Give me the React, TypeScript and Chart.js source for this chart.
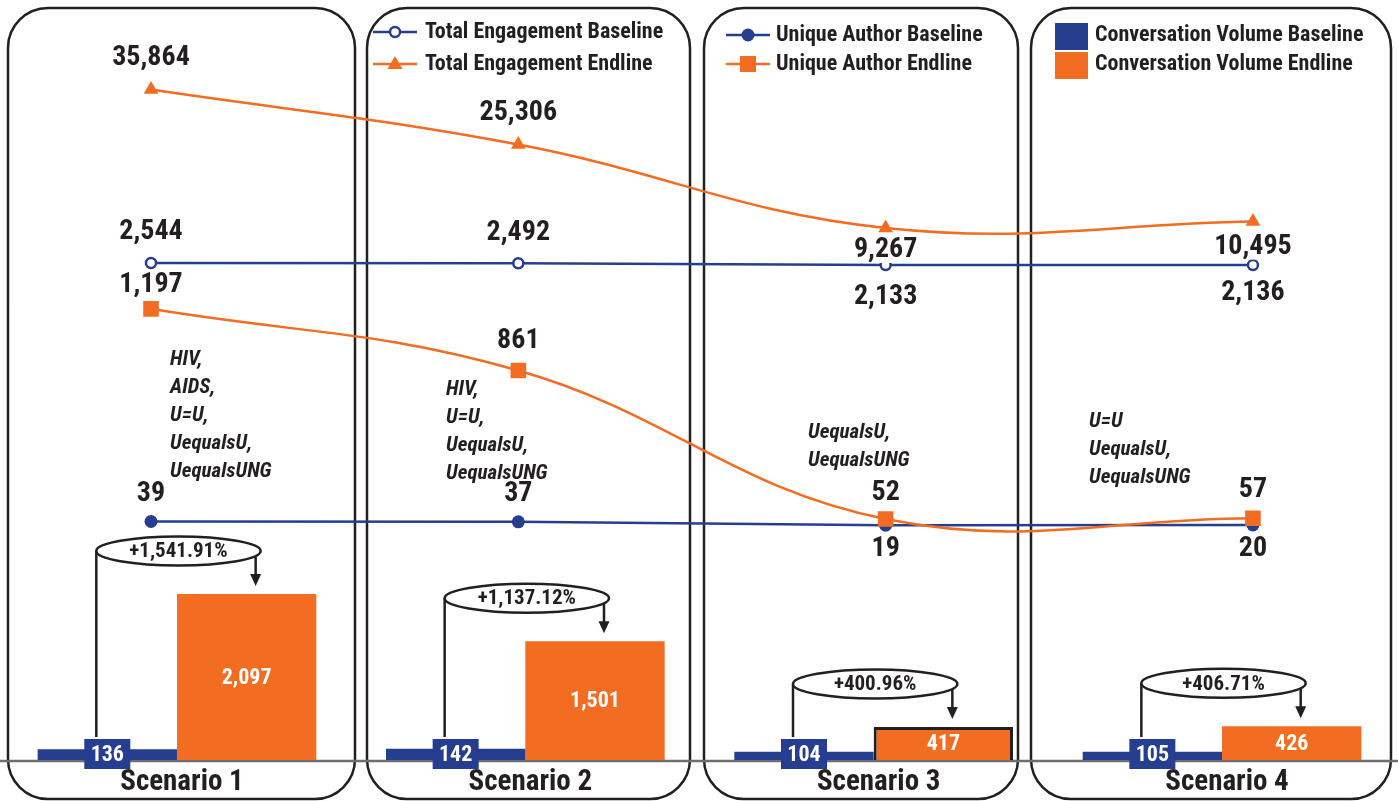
import React, { useEffect, useRef } from 'react';
import { Chart, registerables } from 'chart.js';

Chart.register(...registerables);

// ---------------- data ----------------
const scenarios = ['Scenario 1', 'Scenario 2', 'Scenario 3', 'Scenario 4'];
const teBaseline = [2544, 2492, 2133, 2136];
const teEndline = [35864, 25306, 9267, 10495];
const uaBaseline = [39, 37, 19, 20];
const uaEndline = [1197, 861, 52, 57];
const cvBaseline = [136, 142, 104, 105];
const cvEndline = [2097, 1501, 417, 426];
const cvChange = ['+1,541.91%', '+1,137.12%', '+400.96%', '+406.71%'];
const keywords = [
  ['HIV,', 'AIDS,', 'U=U,', 'UequalsU,', 'UequalsUNG'],
  ['HIV,', 'U=U,', 'UequalsU,', 'UequalsUNG'],
  ['UequalsU,', 'UequalsUNG'],
  ['U=U', 'UequalsU,', 'UequalsUNG'],
];
const seriesNames = {
  teB: 'Total Engagement Baseline',
  teE: 'Total Engagement Endline',
  uaB: 'Unique Author Baseline',
  uaE: 'Unique Author Endline',
  cvB: 'Conversation Volume Baseline',
  cvE: 'Conversation Volume Endline',
};

// ---------------- style / layout ----------------
const BLUE = '#253E8F';
const ORANGE = '#F26C22';
const INK = '#231F20';
const AXIS_GREY = '#6D6E71';
const FONT = '"Liberation Sans Narrow", "Roboto Condensed", "DejaVu Sans Condensed", sans-serif';
const W = 1398;
const H = 801;
const PADDING = { left: 2.8, right: 1.8, top: 0, bottom: 41 };
const PANELS = [
  [8, 8, 347, 791],
  [367, 8, 323, 791],
  [704, 8, 314, 791],
  [1031, 8, 360, 791],
];
const KW_POS = [
  [170, 360],
  [446, 390],
  [808, 433],
  [1089, 422],
];
const KW_LINE = 28;
const TE_BASE_DY = [-31, -30, 32, 28];
const TE_END_DY = [-32, -32, 22, 25];
const TE_END_BG = [false, false, true, true];
const UA_BASE_DY = [-27, -28, 24, 24];
const UA_END_DY = [-24, -30, -26, -28];

function fmt(v: number) {
  return v.toLocaleString('en-US');
}

function roundRect(ctx: CanvasRenderingContext2D, x: number, y: number, w: number, h: number, r: number) {
  ctx.beginPath();
  ctx.moveTo(x + r, y);
  ctx.lineTo(x + w - r, y);
  ctx.arcTo(x + w, y, x + w, y + r, r);
  ctx.lineTo(x + w, y + h - r);
  ctx.arcTo(x + w, y + h, x + w - r, y + h, r);
  ctx.lineTo(x + r, y + h);
  ctx.arcTo(x, y + h, x, y + h - r, r);
  ctx.lineTo(x, y + r);
  ctx.arcTo(x, y, x + r, y, r);
  ctx.closePath();
}

// ---- plugins for the bar chart (bottom canvas) ----
const barBgPlugin = {
  id: 'barBg',
  beforeDatasetsDraw(chart: any) {
    const ctx = chart.ctx as CanvasRenderingContext2D;
    ctx.save();
    ctx.fillStyle = '#ffffff';
    ctx.fillRect(0, 0, W, H);
    ctx.strokeStyle = INK;
    ctx.lineWidth = 2.5;
    PANELS.forEach(([x, y, w, h]) => {
      roundRect(ctx, x, y, w, h, 40);
      ctx.stroke();
    });
    const base = chart.scales.y.getPixelForValue(0);
    ctx.strokeStyle = AXIS_GREY;
    ctx.lineWidth = 2.5;
    ctx.beginPath();
    ctx.moveTo(0, base + 1);
    ctx.lineTo(W, base + 1);
    ctx.stroke();
    ctx.restore();
  },
  afterDatasetsDraw(chart: any) {
    const ctx = chart.ctx as CanvasRenderingContext2D;
    ctx.save();
    ctx.textAlign = 'center';
    ctx.textBaseline = 'middle';
    const mB = chart.getDatasetMeta(0);
    const mE = chart.getDatasetMeta(1);
    const base = chart.scales.y.getPixelForValue(0);
    scenarios.forEach((_, i) => {
      const b = mB.data[i];
      const e = mE.data[i];
      const leftX = b.x - 11;
      const arrowX = e.x + 9;
      const rightX = e.x + 14;
      const cy = e.y - 43;
      const boxTop = base - 21;
      ctx.strokeStyle = INK;
      ctx.lineWidth = 2.5;
      ctx.beginPath();
      ctx.moveTo(leftX, cy);
      ctx.lineTo(leftX, boxTop - 2);
      ctx.moveTo(arrowX, cy);
      ctx.lineTo(arrowX, e.y - 19);
      ctx.stroke();
      ctx.fillStyle = INK;
      ctx.beginPath();
      ctx.moveTo(arrowX - 5.5, e.y - 20);
      ctx.lineTo(arrowX + 5.5, e.y - 20);
      ctx.lineTo(arrowX, e.y - 8);
      ctx.closePath();
      ctx.fill();
      ctx.beginPath();
      ctx.ellipse((leftX + rightX) / 2, cy, Math.abs(rightX - leftX) / 2, 14.5, 0, 0, Math.PI * 2);
      ctx.fillStyle = '#ffffff';
      ctx.fill();
      ctx.stroke();
      ctx.fillStyle = INK;
      ctx.font = `bold 21px ${FONT}`;
      ctx.fillText(cvChange[i], (leftX + rightX) / 2, cy + 1);

      ctx.fillStyle = BLUE;
      ctx.fillRect(b.x - 23, boxTop, 46, 30);
      ctx.fillStyle = '#ffffff';
      ctx.font = `bold 22px ${FONT}`;
      ctx.fillText(fmt(cvBaseline[i]), b.x, boxTop + 16);
      ctx.fillText(fmt(cvEndline[i]), e.x, (e.y + base) / 2 + 1);

      ctx.fillStyle = INK;
      ctx.font = `bold 29px ${FONT}`;
      const cx = chart.scales.x.getPixelForValue(i);
      ctx.fillText(scenarios[i], cx + 5, 783);
    });
    ctx.restore();
  },
};

// ---- plugins for the line chart (top canvas) ----
function drawLabel(ctx: CanvasRenderingContext2D, text: string, x: number, y: number, bg: boolean) {
  if (bg) {
    const w = ctx.measureText(text).width;
    ctx.fillStyle = '#ffffff';
    ctx.fillRect(x - w / 2 - 6, y - 13, w + 12, 26);
  }
  ctx.fillStyle = INK;
  ctx.fillText(text, x, y);
}

const linePlugin = {
  id: 'lineOverlay',
  afterDatasetsDraw(chart: any) {
    const ctx = chart.ctx as CanvasRenderingContext2D;
    ctx.save();
    ctx.textAlign = 'center';
    ctx.textBaseline = 'middle';
    const mTeB = chart.getDatasetMeta(0);
    const mTeE = chart.getDatasetMeta(1);
    const mUaB = chart.getDatasetMeta(2);
    const mUaE = chart.getDatasetMeta(3);
    ctx.font = `bold 28px ${FONT}`;
    scenarios.forEach((_, i) => {
      const pb = mTeB.data[i];
      drawLabel(ctx, fmt(teBaseline[i]), pb.x, pb.y + TE_BASE_DY[i], false);
      const pe = mTeE.data[i];
      drawLabel(ctx, fmt(teEndline[i]), pe.x, pe.y + TE_END_DY[i], TE_END_BG[i]);
      const ub = mUaB.data[i];
      drawLabel(ctx, fmt(uaBaseline[i]), ub.x, ub.y + UA_BASE_DY[i], false);
      const ue = mUaE.data[i];
      drawLabel(ctx, fmt(uaEndline[i]), ue.x, ue.y + UA_END_DY[i], false);
    });
    ctx.textAlign = 'left';
    ctx.font = `italic bold 21px ${FONT}`;
    ctx.fillStyle = INK;
    keywords.forEach((lines, i) => {
      const [kx, ky] = KW_POS[i];
      lines.forEach((t, j) => ctx.fillText(t, kx, ky + j * KW_LINE));
    });
    ctx.restore();
  },
  afterDraw(chart: any) {
    const ctx = chart.ctx as CanvasRenderingContext2D;
    ctx.save();
    ctx.textAlign = 'left';
    ctx.textBaseline = 'middle';
    ctx.font = `bold 22px ${FONT}`;
    const lineItem = (x: number, y: number, color: string, marker: string) => {
      ctx.strokeStyle = color;
      ctx.lineWidth = 2.5;
      ctx.beginPath();
      ctx.moveTo(x, y);
      ctx.lineTo(x + 44, y);
      ctx.stroke();
      const mx = x + 22;
      if (marker === 'open') {
        ctx.beginPath();
        ctx.arc(mx, y, 5, 0, Math.PI * 2);
        ctx.fillStyle = '#fff';
        ctx.fill();
        ctx.stroke();
      } else if (marker === 'dot') {
        ctx.beginPath();
        ctx.arc(mx, y, 6.5, 0, Math.PI * 2);
        ctx.fillStyle = color;
        ctx.fill();
      } else if (marker === 'tri') {
        ctx.beginPath();
        ctx.moveTo(mx, y - 8);
        ctx.lineTo(mx + 7.5, y + 5);
        ctx.lineTo(mx - 7.5, y + 5);
        ctx.closePath();
        ctx.fillStyle = color;
        ctx.fill();
      } else if (marker === 'sq') {
        ctx.fillStyle = color;
        ctx.fillRect(mx - 8, y - 8, 16, 16);
      }
    };
    lineItem(373, 32, BLUE, 'open');
    lineItem(373, 64, ORANGE, 'tri');
    ctx.fillStyle = INK;
    ctx.fillText(seriesNames.teB, 425, 32);
    ctx.fillText(seriesNames.teE, 425, 64);
    lineItem(726, 35, BLUE, 'dot');
    lineItem(726, 64, ORANGE, 'sq');
    ctx.fillStyle = INK;
    ctx.fillText(seriesNames.uaB, 776, 35);
    ctx.fillText(seriesNames.uaE, 776, 64);
    ctx.fillStyle = BLUE;
    ctx.fillRect(1055, 23, 33, 27);
    ctx.fillStyle = ORANGE;
    ctx.fillRect(1055, 52, 33, 27);
    ctx.fillStyle = INK;
    ctx.fillText(seriesNames.cvB, 1095, 35);
    ctx.fillText(seriesNames.cvE, 1095, 64);
    ctx.restore();
  },
};

const baseOptions = {
  responsive: false,
  animation: false,
  devicePixelRatio: 1,
  layout: { autoPadding: false, padding: PADDING },
  plugins: { legend: { display: false }, tooltip: { enabled: false } },
};

export default function App() {
  const barRef = useRef<HTMLCanvasElement | null>(null);
  const lineRef = useRef<HTMLCanvasElement | null>(null);
  useEffect(() => {
    if (!barRef.current || !lineRef.current) return;
    const barChart = new Chart(barRef.current, {
      type: 'bar',
      data: {
        labels: scenarios,
        datasets: [
          {
            label: seriesNames.cvB,
            data: cvBaseline,
            backgroundColor: BLUE,
            borderWidth: 0,
            categoryPercentage: 0.8,
            barPercentage: 1.0,
          },
          {
            label: seriesNames.cvE,
            data: cvEndline,
            backgroundColor: ORANGE,
            borderColor: INK,
            borderWidth: [0, 0, 3, 0],
            borderSkipped: 'start',
            categoryPercentage: 0.8,
            barPercentage: 1.0,
          },
        ],
      } as any,
      options: {
        ...baseOptions,
        scales: {
          x: { type: 'category', display: false, offset: true },
          y: { type: 'linear', display: false, min: 0, max: 9601 },
        },
      } as any,
      plugins: [barBgPlugin],
    });

    const pts = (arr: number[]) => arr.map((v, i) => ({ x: i, y: v }));
    const lineChart = new Chart(lineRef.current, {
      type: 'line',
      data: {
        datasets: [
          {
            label: seriesNames.teB,
            data: pts(teBaseline),
            yAxisID: 'yTE',
            borderColor: BLUE,
            borderWidth: 2.5,
            tension: 0,
            pointStyle: 'circle',
            pointRadius: 5,
            pointBackgroundColor: '#ffffff',
            pointBorderColor: BLUE,
            pointBorderWidth: 2.5,
            order: 3,
          },
          {
            label: seriesNames.teE,
            data: pts(teEndline),
            yAxisID: 'yTE',
            borderColor: ORANGE,
            borderWidth: 2.5,
            tension: 0.4,
            pointStyle: 'triangle',
            pointRadius: 8.5,
            pointBackgroundColor: ORANGE,
            pointBorderColor: ORANGE,
            pointBorderWidth: 0,
            order: 2,
          },
          {
            label: seriesNames.uaB,
            data: pts(uaBaseline),
            yAxisID: 'yUA',
            borderColor: BLUE,
            borderWidth: 2.5,
            tension: 0,
            pointStyle: 'circle',
            pointRadius: 6.5,
            pointBackgroundColor: BLUE,
            pointBorderColor: BLUE,
            pointBorderWidth: 0,
            order: 3,
          },
          {
            label: seriesNames.uaE,
            data: pts(uaEndline),
            yAxisID: 'yUA',
            borderColor: ORANGE,
            borderWidth: 2.5,
            tension: 0.4,
            pointStyle: 'rect',
            pointRadius: 11,
            pointBackgroundColor: ORANGE,
            pointBorderColor: ORANGE,
            pointBorderWidth: 0,
            order: 1,
          },
        ],
      } as any,
      options: {
        ...baseOptions,
        scales: {
          x: { type: 'linear', display: false, offset: false, min: -0.4035, max: 3.39 },
          yTE: { type: 'linear', display: false, min: -92967, max: 53075 },
          yUA: { type: 'linear', display: false, min: -1260, max: 2879 },
        },
      } as any,
      plugins: [linePlugin],
    });
    return () => {
      barChart.destroy();
      lineChart.destroy();
    };
  }, []);
  const canvasStyle: React.CSSProperties = { position: 'absolute', left: 0, top: 0, width: W, height: H, display: 'block' };
  return (
    <div style={{ position: 'fixed', left: 0, top: 0, width: W, height: H, background: '#ffffff' }}>
      <canvas ref={barRef} width={W} height={H} style={canvasStyle} />
      <canvas ref={lineRef} width={W} height={H} style={canvasStyle} />
    </div>
  );
}
